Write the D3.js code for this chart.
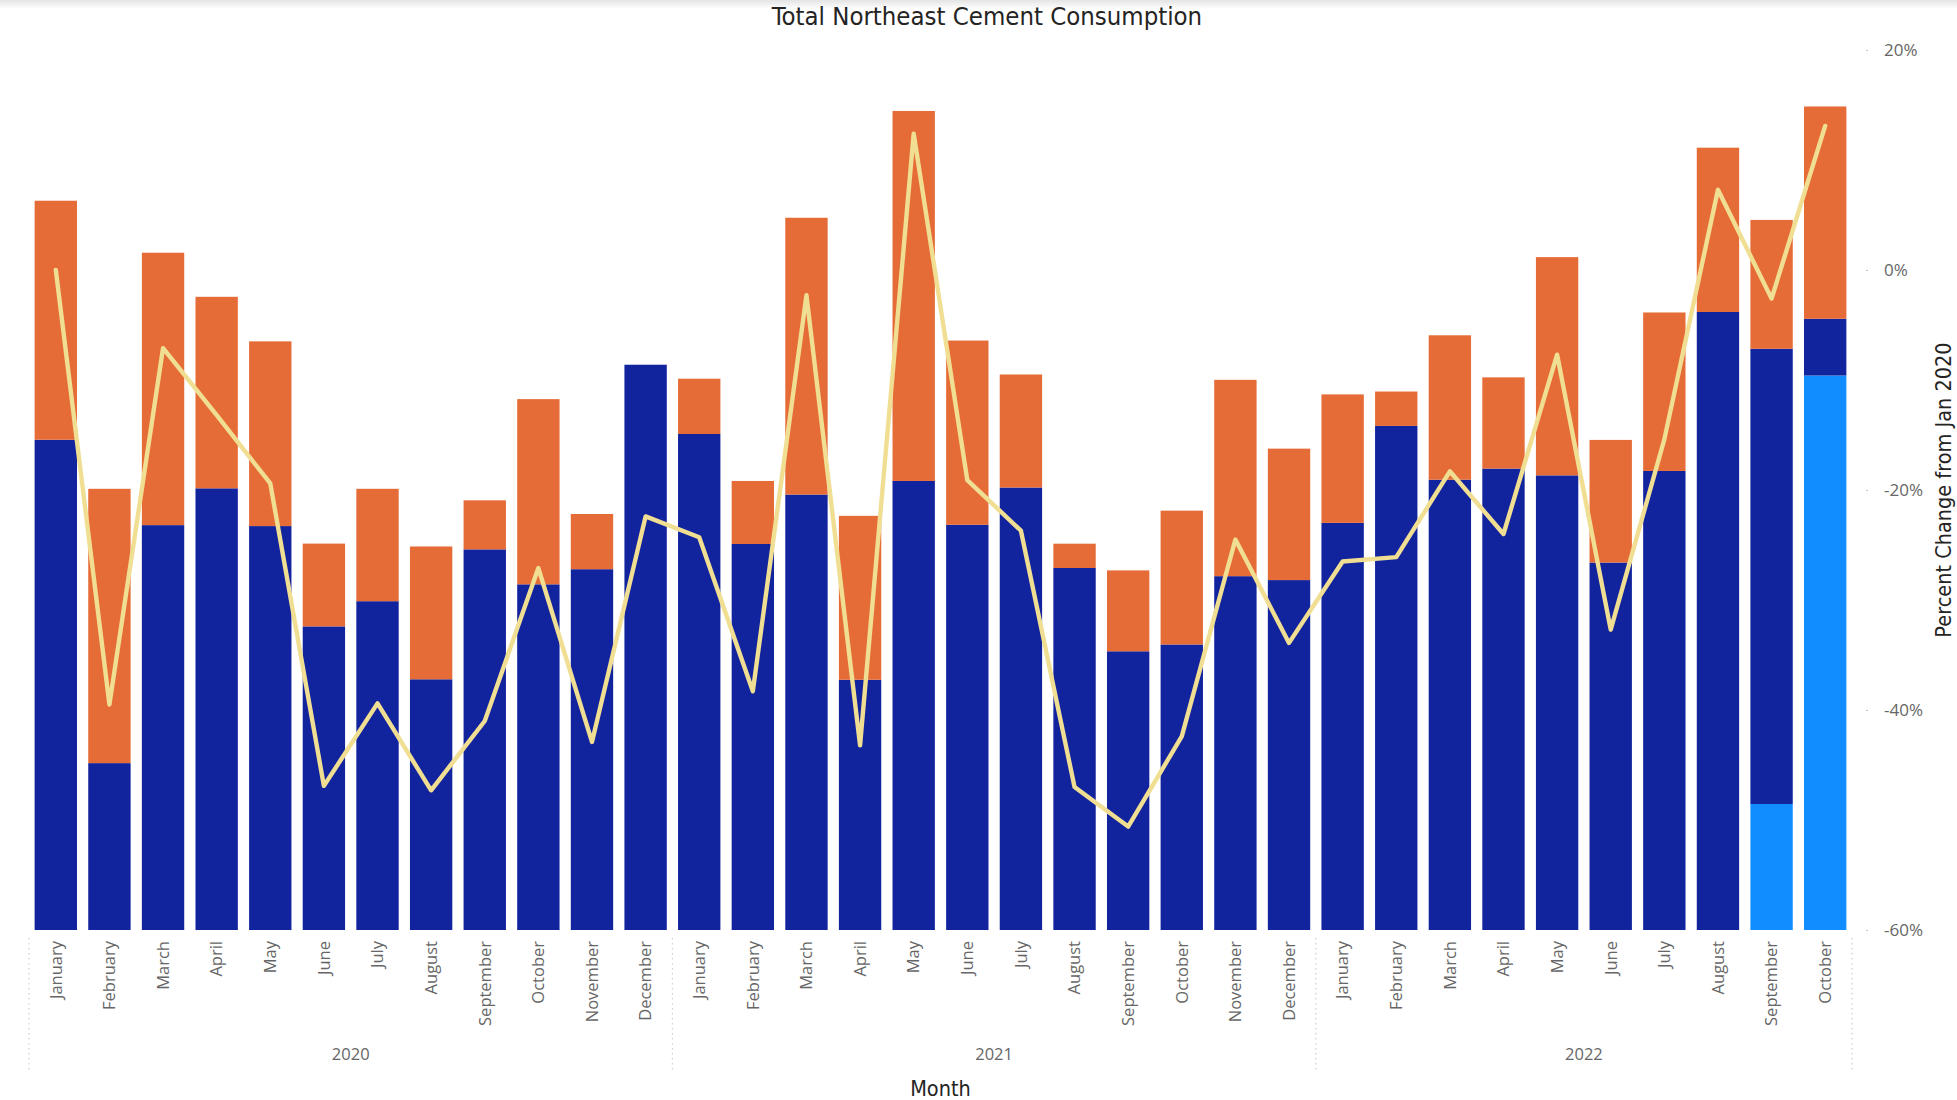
<!DOCTYPE html>
<html>
<head>
<meta charset="utf-8">
<script src="https://cdn.jsdelivr.net/npm/d3@7"></script>
<style>
  html, body { margin: 0; padding: 0; background: #fff; }
  svg { display: block; }
</style>
</head>
<body>
<svg id="chart" width="1957" height="1100"></svg>
<script>
// ---------------- DATA ----------------
const years = ["2020", "2021", "2022"];
const months = ["January","February","March","April","May","June","July","August","September","October","November","December"];
const periods = [
  ["2020","January"],["2020","February"],["2020","March"],["2020","April"],["2020","May"],["2020","June"],
  ["2020","July"],["2020","August"],["2020","September"],["2020","October"],["2020","November"],["2020","December"],
  ["2021","January"],["2021","February"],["2021","March"],["2021","April"],["2021","May"],["2021","June"],
  ["2021","July"],["2021","August"],["2021","September"],["2021","October"],["2021","November"],["2021","December"],
  ["2022","January"],["2022","February"],["2022","March"],["2022","April"],["2022","May"],["2022","June"],
  ["2022","July"],["2022","August"],["2022","September"],["2022","October"]
];
// stacked series (arbitrary consumption units), bottom to top
const lightBlueValues = [0,0,0,0,0,0,0,0,0,0,0,0, 0,0,0,0,0,0,0,0,0,0,0,0, 0,0,0,0,0,0,0,0,157.5,693.1];
const darkBlueValues = [612.8,208.6,506.1,552.1,504.9,379.5,411.0,313.4,475.8,432.1,451.0,706.6,
                        620.0,482.5,544.3,312.8,561.3,506.5,553.1,452.5,348.4,356.9,442.3,437.4,
                        508.9,630.1,562.9,576.8,568.3,459.3,573.8,772.5,569.0,70.9];
const orangeValues   = [298.8,342.9,340.5,239.4,230.9,103.5,140.5,166.0,61.3,231.5,69.0,0,
                        69.1,78.8,346.0,204.9,462.5,230.3,141.3,30.4,101.1,167.3,245.4,164.3,
                        160.6,43.0,180.5,114.0,272.8,153.3,198.1,205.4,161.1,265.4];
// line: percent change from Jan 2020
const pctChange = [0.0,-39.5,-7.1,-13.2,-19.4,-46.9,-39.4,-47.3,-41.0,-27.1,-42.9,-22.4,
                   -24.3,-38.3,-2.3,-43.2,12.4,-19.1,-23.7,-47.0,-50.6,-42.4,-24.5,-33.9,
                   -26.5,-26.1,-18.3,-24.0,-7.7,-32.7,-15.4,7.3,-2.6,13.1];
const pctTicks = [20, 0, -20, -40, -60];

// ---------------- LAYOUT ----------------
const svg = d3.select("#chart");
const plotLeft = 29, plotRight = 1852, plotTop = 50, plotBottom = 930;
const colors = { light: "#118DFF", dark: "#12239E", orange: "#E66C37", line: "#F0DE92" };

// top shadow
const defs = svg.append("defs");
const grad = defs.append("linearGradient").attr("id","topShade").attr("x1",0).attr("x2",0).attr("y1",0).attr("y2",1);
grad.append("stop").attr("offset","0%").attr("stop-color","#e4e4e4");
grad.append("stop").attr("offset","100%").attr("stop-color","#ffffff");
svg.append("rect").attr("x",0).attr("y",0).attr("width",1957).attr("height",9).attr("fill","url(#topShade)");

const keys = periods.map(p => p[0] + "-" + p[1]);
const x = d3.scaleBand().domain(keys).range([plotLeft, plotRight]).paddingInner(0.21).paddingOuter(0.105);
const yBar = d3.scaleLinear().domain([0, 1100]).range([plotBottom, plotTop]);
const yPct = d3.scaleLinear().domain([-60, 20]).range([plotBottom, plotTop]);

const rows = keys.map((k, i) => ({ key: k, light: lightBlueValues[i], dark: darkBlueValues[i], orange: orangeValues[i] }));
const stack = d3.stack().keys(["light","dark","orange"]);
const series = stack(rows);

svg.append("g").selectAll("g").data(series).join("g")
  .attr("fill", d => colors[d.key])
  .selectAll("rect").data(d => d.filter(s => s[1] - s[0] > 0)).join("rect")
  .attr("x", d => x(d.data.key))
  .attr("width", x.bandwidth())
  .attr("y", d => yBar(d[1]))
  .attr("height", d => yBar(d[0]) - yBar(d[1]));

// line
const line = d3.line().x((d, i) => x(keys[i]) + x.bandwidth() / 2).y(d => yPct(d));
svg.append("path").datum(pctChange)
  .attr("d", line).attr("fill","none").attr("stroke", colors.line)
  .attr("stroke-width", 4.4).attr("stroke-linejoin","round").attr("stroke-linecap","round");

// right axis
const rightAxis = d3.axisRight(yPct).tickValues(pctTicks).tickSize(2).tickPadding(16)
  .tickFormat(d => d + "%");
const ra = svg.append("g").attr("transform", `translate(${plotRight + 14},0)`).call(rightAxis);
ra.select(".domain").remove();
ra.selectAll(".tick line").attr("stroke","#c8c8c8");
ra.selectAll(".tick text").attr("fill","#666666").style("font-family","'Open Sans', 'Noto Sans', sans-serif").style("font-size","17px");

// x-axis month labels
const xAxis = d3.axisBottom(x).tickSize(0).tickPadding(0).tickFormat(k => k.split("-")[1]);
const xa = svg.append("g").attr("transform", `translate(0,${plotBottom})`).call(xAxis);
xa.select(".domain").remove();
xa.selectAll(".tick text")
  .attr("transform","rotate(-90)")
  .attr("x", -11).attr("y", 0).attr("dy","0.35em")
  .attr("text-anchor","end")
  .attr("fill","#666666")
  .style("font-family","'Open Sans', 'Noto Sans', sans-serif").style("font-size","16.5px");

// year groups
const yearGroups = years.map(yr => {
  const ks = keys.filter(k => k.startsWith(yr));
  const start = x(ks[0]) - x.step() * x.paddingInner() / 2;
  const end = x(ks[ks.length - 1]) + x.bandwidth() + x.step() * x.paddingInner() / 2;
  return { yr, start, end };
});
const bounds = [yearGroups[0].start].concat(yearGroups.map(g => g.end));
svg.append("g").selectAll("line").data(bounds).join("line")
  .attr("x1", d => d).attr("x2", d => d)
  .attr("y1", plotBottom + 8).attr("y2", plotBottom + 140)
  .attr("stroke","#cfcfcf").attr("stroke-width",1.2).attr("stroke-dasharray","1.5,3.5");
svg.append("g").selectAll("text").data(yearGroups).join("text")
  .attr("x", d => (d.start + d.end) / 2).attr("y", 1060)
  .attr("text-anchor","middle").attr("fill","#666666")
  .style("font-family","'Open Sans', 'Noto Sans', sans-serif").style("font-size","16.5px")
  .text(d => d.yr);

// titles
const condensed = "'DejaVu Sans Condensed', 'Liberation Sans Narrow', Roboto, sans-serif";
svg.append("text").attr("x", 987).attr("y", 25).attr("text-anchor","middle")
  .attr("fill","#252423").style("font-family", condensed).style("font-size","25.5px").style("font-weight","500")
  .text("Total Northeast Cement Consumption");
svg.append("text").attr("x", (plotLeft + plotRight) / 2).attr("y", 1096).attr("text-anchor","middle")
  .attr("fill","#252423").style("font-family", condensed).style("font-size","21.5px").style("font-weight","500")
  .text("Month");
svg.append("text").attr("transform", `translate(1951,${(plotTop + plotBottom) / 2}) rotate(-90)`)
  .attr("text-anchor","middle")
  .attr("fill","#252423").style("font-family", condensed).style("font-size","21.5px").style("font-weight","500")
  .text("Percent Change from Jan 2020");
</script>
</body>
</html>
